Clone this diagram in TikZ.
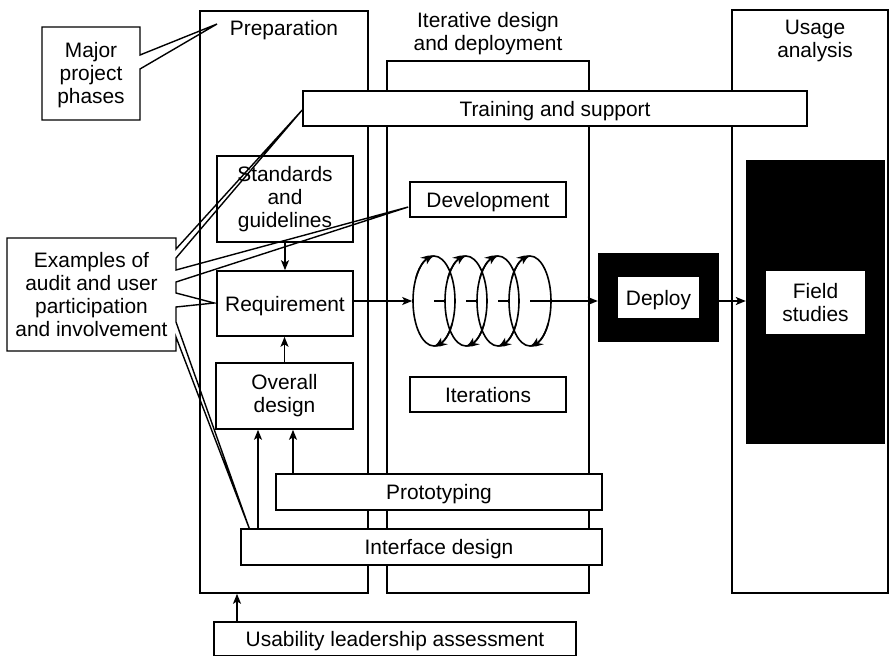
\documentclass[tikz,border=0pt]{standalone}
\usepackage{fontspec}
\setmainfont{Liberation Sans}
\usetikzlibrary{arrows.meta,bending,shapes.geometric,calc}
\begin{document}
\begin{tikzpicture}[x=1pt,y=1pt,
  lw/.style={line width=1.6pt},
  every node/.style={font=\fontsize{20.9pt}{23pt}\selectfont, inner sep=0pt, align=center},
  panel/.style={draw, lw},
  box/.style={draw, lw, fill=white},
  oneline/.style={text height=15pt, text depth=0pt},
  arr/.style={lw, -{Stealth[length=10pt,width=8pt,inset=2.5pt]}},
  looparr/.style={lw, -{Stealth[length=11pt,width=9pt,inset=3pt,bend]}},
  pointer/.style={line width=1.4pt, line join=miter},
  darkbox/.style={fill=black},
  whitebox/.style={fill=white},
  loop/.style={ellipse, draw, lw, minimum width=42pt, minimum height=90pt}
]
\useasboundingbox (0,0) rectangle (889,-656);

% phase columns
\node[panel, minimum width=168pt, minimum height=582pt] (prep)  at (284,-302) {};
\node[panel, minimum width=202pt, minimum height=532pt] (iter)  at (488,-327) {};
\node[panel, minimum width=156pt, minimum height=583pt] (usage) at (810,-301.5) {};

\node[anchor=base] (preplbl) at (284,-35) {Preparation};
\node (iterlbl)  at (488,-34) {Iterative design\\and deployment};
\node (usagelbl) at (815,-41) {Usage\\analysis};

% activity boxes
\node[box, oneline, minimum width=504pt, minimum height=35pt] (train) at (555,-108.5) {Training and support};
\node[box, minimum width=136pt, minimum height=86pt] (std) at (285,-199) {Standards\\and\\guidelines};
\node[box, oneline, minimum width=136pt, minimum height=65pt] (req) at (285,-303.5) {Requirement};
\node[box, minimum width=137pt, minimum height=66pt] (ovd) at (284.5,-396) {Overall\\design};
\node[box, oneline, minimum width=156pt, minimum height=35pt] (dev) at (488,-199.5) {Development};
\node[box, oneline, minimum width=156pt, minimum height=35pt] (itr) at (488,-394.5) {Iterations};
\node[box, oneline, minimum width=326pt, minimum height=36pt] (proto) at (439,-492) {Prototyping};
\node[box, minimum width=361pt, minimum height=36pt] (ifd) at (421.5,-547) {};
\node[oneline] (ifdtxt) at (439,-547) {Interface design};
\node[box, oneline, minimum width=362pt, minimum height=34pt] (usab) at (395,-639) {Usability leadership assessment};

% deployment and field studies
\node[darkbox, minimum width=121pt, minimum height=89pt] (dep) at (658.5,-297.5) {};
\node[whitebox, oneline, minimum width=81pt, minimum height=41pt] (deptxt) at (658.5,-297.5) {Deploy};
\node[darkbox, minimum width=139pt, minimum height=284pt] (fld) at (815.5,-302) {};
\node[whitebox, minimum width=99pt, minimum height=63pt] (fldtxt) at (815.5,-302.5) {Field\\studies};

% iteration loops
\foreach \i in {1,...,4} {
  \node[loop] (e\i) at ({434+32*(\i-1)},-301) {};
  \draw[looparr] ($(e\i.center)+(150:21pt and 45pt)$) arc[start angle=150, end angle=90, x radius=21pt, y radius=45pt];
  \draw[looparr] ($(e\i.center)+(-30:21pt and 45pt)$) arc[start angle=-30, end angle=-90, x radius=21pt, y radius=45pt];
}
\draw[lw] (e1.center) -- (e2.west);
\draw[lw] (e2.center) -- (e3.west);
\draw[lw] (e3.center) -- (e4.west);

% flow arrows
\draw[arr] (req.east |- e1.west) -- (e1.west);
\draw[arr] (e4.center) -- (e4.center -| dep.west);
\draw[arr] (dep.east |- e4.center) -- (fld.west |- e4.center);
\draw[arr] (std.south) -- (req.north);
\draw[arr] (ovd.north) -- (req.south -| ovd.north);
\coordinate (xa) at (258,0);
\coordinate (xb) at (293,0);
\coordinate (xc) at (237,0);
\draw[arr] (ifd.north -| xa) -- (ovd.south -| xa);
\draw[arr] (proto.north -| xb) -- (ovd.south -| xb);
\draw[arr] (usab.north -| xc) -- (prep.south -| xc);

% callouts
\node (majlbl) at (91,-75.5) {Major\\project\\phases};
\coordinate (majtip) at (217,-24);
\draw[pointer] (42,-27) -- (140,-27) -- (140,-55) -- (majtip) -- (140,-69) -- (140,-120) -- (42,-120) -- cycle;

\node (exlbl) at (91.5,-294.5) {Examples of\\audit and user\\participation\\and involvement};
\coordinate (tipa) at ($(train.west)+(0,-1.5)$);
\coordinate (tipb) at ($(dev.west)+(-1,-7.5)$);
\coordinate (tipc) at ($(req.west)+(-2,0.5)$);
\coordinate (tipd) at ($(ifd.north west)+(9,0)$);
\draw[pointer] (7,-238) -- (176,-238) -- (176,-249) -- (tipa) -- (176,-258)
  -- (176,-270) -- (tipb) -- (176,-282)
  -- (176,-293) -- (tipc) -- (176,-307)
  -- (176,-322) -- (tipd) -- (176,-337)
  -- (176,-351) -- (7,-351) -- cycle;
\end{tikzpicture}
\end{document}
